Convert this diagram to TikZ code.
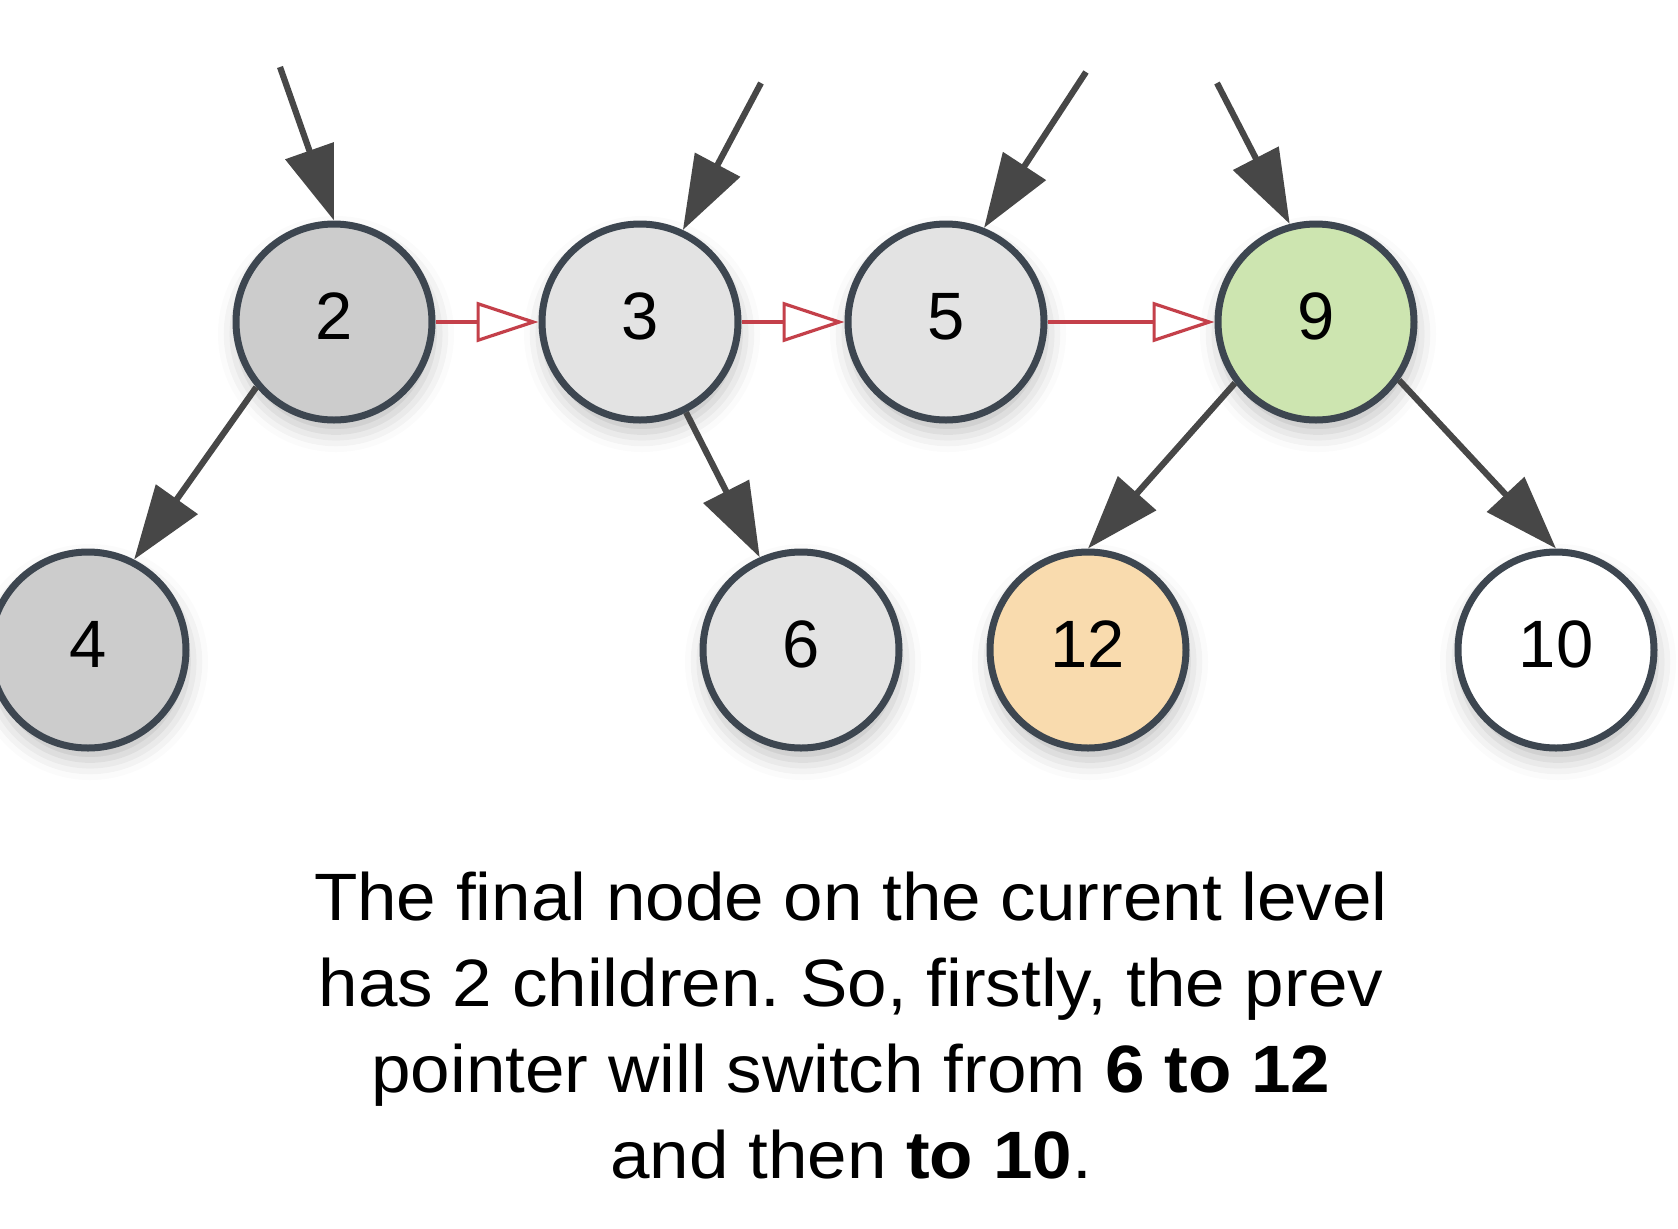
\documentclass[tikz,border=0pt]{standalone}
\usepackage{fontspec}
\setmainfont{Liberation Sans}
\newfontfamily\capfont[FakeStretch=1.06]{Liberation Sans}
\usetikzlibrary{arrows.meta,shadows.blur}
\definecolor{nodeborder}{HTML}{3D4650}
\definecolor{arrgray}{HTML}{474747}
\definecolor{redc}{HTML}{C4404A}
\definecolor{darkfill}{HTML}{CCCCCC}
\definecolor{lightfill}{HTML}{E3E3E3}
\definecolor{greenfill}{HTML}{CDE5B0}
\definecolor{peachfill}{HTML}{F9DBAE}
\frenchspacing
\begin{document}
\begin{tikzpicture}[x=0.5pt,y=-0.5pt,
  tn/.style={circle, draw=nodeborder, line width=3.5pt, minimum size=98pt, inner sep=0pt,
    text depth=6pt,
    font=\fontsize{33.5pt}{40pt}\selectfont,
    blur shadow={shadow xshift=1pt, shadow yshift=-6pt, shadow blur radius=10pt, shadow opacity=26}},
  darr/.style={draw=arrgray, line width=3.1pt, -{Triangle[length=37pt,width=25pt]}},
  rarr/.style={draw=redc, line width=1.6pt, -{Triangle[length=31pt,width=20pt,fill=white]}},
  caption/.style={align=center, inner sep=0pt, font=\capfont\fontsize{33.5pt}{43pt}\selectfont}
]
\useasboundingbox (0,0) rectangle (1678,1228);
\node[tn, fill=darkfill]  (n2)  at (334,322) {2};
\node[tn, fill=lightfill] (n3)  at (640,322) {3};
\node[tn, fill=lightfill] (n5)  at (946,322) {5};
\node[tn, fill=greenfill] (n9)  at (1316,322) {9};
\node[tn, fill=darkfill]  (n4)  at (88,650) {4};
\node[tn, fill=lightfill] (n6)  at (801,650) {6};
\node[tn, fill=peachfill] (n12) at (1088,650) {12};
\node[tn, fill=white]     (n10) at (1556,650) {10};

\coordinate (t2) at (280,67);
\coordinate (t3) at (761,83);
\coordinate (t5) at (1086,72);
\coordinate (t9) at (1217,83);

\draw[darr] (t2) -- (n2.90);
\draw[darr] (t3) -- (n3.65);
\draw[darr] (t5) -- (n5.68);
\draw[darr] (t9) -- (n9.105);

\draw[darr] (n2.220) -- (n4.63);
\draw[darr] (n3.-63) -- (n6.114);
\draw[darr] (n9.217) -- (n12.90);
\draw[darr] (n9.-35) -- (n10.90);

\draw[rarr] (n2.east) -- (n3.west);
\draw[rarr] (n3.east) -- (n5.west);
\draw[rarr] (n5.east) -- (n9.west);

\node[caption, anchor=north] (cap) at (851,872)
  {The final node on the current level\\
   has 2 children. So, firstly, the prev\\
   pointer will switch from \textbf{6 to 12}\\
   and then \textbf{to 10}.};
\end{tikzpicture}
\end{document}
